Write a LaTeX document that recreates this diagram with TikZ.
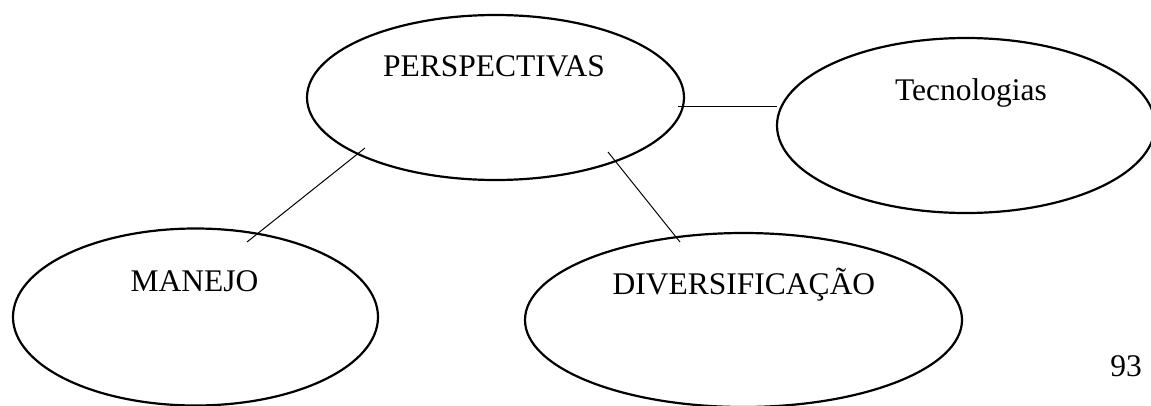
\documentclass[tikz,border=0pt]{standalone}
\usepackage{fontspec}
\setmainfont{Liberation Serif}
\usetikzlibrary{shapes.geometric}
\begin{document}
\begin{tikzpicture}[x=1pt,y=-1pt,
  bubble/.style={ellipse,draw=black,line width=2.2pt,inner sep=0pt,outer sep=0pt},
  label text/.style={anchor=base,inner sep=0pt,font=\fontsize{31.5}{31.5}\selectfont},
  link/.style={draw=black,line width=1pt}]
  \useasboundingbox (0,0) rectangle (1151,405);
  \clip (0,0) rectangle (1151,405);

  % ellipses
  \node[bubble,minimum width=377pt,minimum height=165pt] (persp) at (495.5,97.5) {};
  \node[bubble,minimum width=378pt,minimum height=175pt] (tec) at (966,125.5) {};
  \node[bubble,minimum width=365pt,minimum height=177pt] (man) at (195.5,317) {};
  \node[bubble,minimum width=437pt,minimum height=174pt] (div) at (743.5,320) {};

  % labels
  \node[label text] (tpersp) at (494,76) {PERSPECTIVAS};
  \node[label text] (ttec) at (971,100) {Tecnologias};
  \node[label text] (tman) at (194.5,291) {MANEJO};
  \node[label text] (tdiv) at (744,294) {DIVERSIFICAÇÃO};
  \node[label text] (page) at (1126,376) {93};

  % connector ends
  \coordinate (pm) at (365,148);
  \coordinate (mp) at (247,242);
  \coordinate (pd) at (608,152);
  \coordinate (dp) at (680,242);
  \coordinate (pt) at (678,106);
  \coordinate (tp) at (777,106);

  % connectors
  \draw[link] (pm) -- (mp);
  \draw[link] (pd) -- (dp);
  \draw[link] (pt) -- (tp);
\end{tikzpicture}
\end{document}
